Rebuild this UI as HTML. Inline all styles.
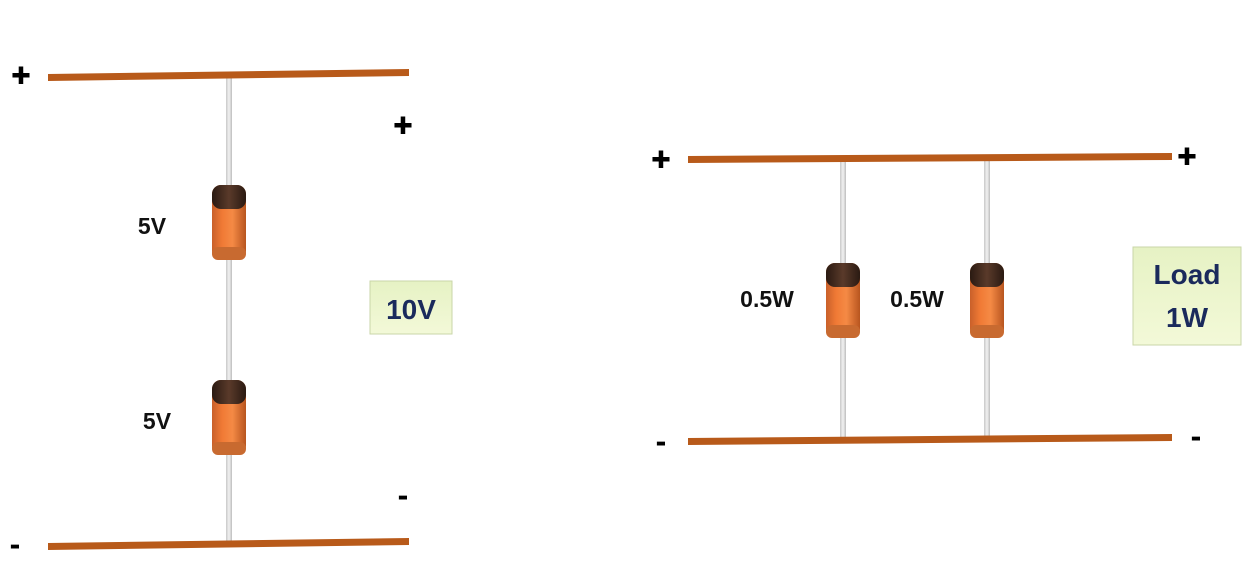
<!DOCTYPE html>
<html><head><meta charset="utf-8"><style>
html,body{margin:0;padding:0;background:#fff;width:1259px;height:573px;overflow:hidden}
svg{display:block}
text{font-family:"Liberation Sans",sans-serif;font-weight:bold}
</style></head><body>
<svg width="1259" height="573" viewBox="0 0 1259 573">
<defs>
<linearGradient id="body" x1="0" x2="1" y1="0" y2="0">
<stop offset="0" stop-color="#c9602a"/><stop offset="0.3" stop-color="#f07a35"/><stop offset="0.6" stop-color="#f58a45"/><stop offset="1" stop-color="#b8551f"/>
</linearGradient>
<linearGradient id="cap" x1="0" x2="1"><stop offset="0" stop-color="#2a1a12"/><stop offset="0.5" stop-color="#5a3a2a"/><stop offset="1" stop-color="#2a1a12"/></linearGradient>
<linearGradient id="box" x1="0" x2="0" y1="0" y2="1"><stop offset="0" stop-color="#e6f2c4"/><stop offset="1" stop-color="#f3f9d8"/></linearGradient>
<linearGradient id="wire" x1="0" x2="1"><stop offset="0" stop-color="#c8c8c8"/><stop offset="0.5" stop-color="#f2f2f2"/><stop offset="1" stop-color="#bdbdbd"/></linearGradient>
<g id="diode">
<rect x="-17" y="0" width="34" height="75" rx="9" fill="url(#body)"/>
<rect x="-17" y="0" width="34" height="24" rx="9" fill="url(#cap)"/>
<rect x="-17" y="62" width="34" height="13" rx="6" fill="#c86a30"/>
</g>
</defs>
<g>
<rect x="226" y="78" width="6" height="464" fill="url(#wire)"/>
<polygon points="48,74 409,69 409,76 48,81" fill="#b85a1a"/>
<polygon points="48,543 409,538 409,545 48,550" fill="#b85a1a"/>
<use href="#diode" x="229" y="185"/>
<use href="#diode" x="229" y="380"/>
<text x="21" y="86" font-size="32" text-anchor="middle" stroke="#000" stroke-width="1">+</text>
<text x="403" y="136" font-size="32" text-anchor="middle" stroke="#000" stroke-width="1">+</text>
<text x="403" y="506" font-size="32" text-anchor="middle">-</text>
<text x="15" y="555" font-size="32" text-anchor="middle">-</text>
<text x="152" y="234" font-size="23" fill="#111" text-anchor="middle">5V</text>
<text x="157" y="429" font-size="23" fill="#111" text-anchor="middle">5V</text>
<rect x="370" y="281" width="82" height="53" fill="url(#box)" stroke="#c9d6a8" stroke-width="1"/>
<text x="411" y="319" font-size="28" fill="#1a2a5c" text-anchor="middle">10V</text>
</g>
<g>
<rect x="840" y="160" width="6" height="278" fill="url(#wire)"/>
<rect x="984" y="160" width="6" height="278" fill="url(#wire)"/>
<polygon points="688,156 1172,153 1172,160 688,163" fill="#b85a1a"/>
<polygon points="688,438 1172,434 1172,441 688,445" fill="#b85a1a"/>
<use href="#diode" x="843" y="263"/>
<use href="#diode" x="987" y="263"/>
<text x="661" y="170" font-size="32" text-anchor="middle" stroke="#000" stroke-width="1">+</text>
<text x="1187" y="167" font-size="32" text-anchor="middle" stroke="#000" stroke-width="1">+</text>
<text x="661" y="452" font-size="32" text-anchor="middle">-</text>
<text x="1196" y="447" font-size="32" text-anchor="middle">-</text>
<text x="767" y="307" font-size="23" fill="#111" text-anchor="middle">0.5W</text>
<text x="917" y="307" font-size="23" fill="#111" text-anchor="middle">0.5W</text>
<rect x="1133" y="247" width="108" height="98" fill="url(#box)" stroke="#c9d6a8" stroke-width="1"/>
<text x="1187" y="284" font-size="28" fill="#1a2a5c" text-anchor="middle">Load</text>
<text x="1187" y="327" font-size="28" fill="#1a2a5c" text-anchor="middle">1W</text>
</g>
</svg>
</body></html>
